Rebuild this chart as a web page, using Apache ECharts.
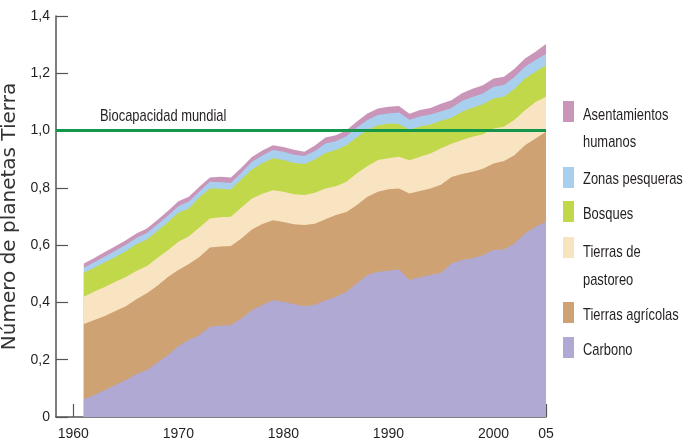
<!DOCTYPE html>
<html>
<head>
<meta charset="utf-8">
<script src="https://cdn.jsdelivr.net/npm/echarts@6/dist/echarts.min.js"></script>
<style>
  html, body { margin: 0; padding: 0; background: #fff; }
  #chart { width: 691px; height: 447px; }
</style>
</head>
<body>
<div id="chart"></div>
<script>
// years on the x axis
const years = [1961,1962,1963,1964,1965,1966,1967,1968,1969,1970,
               1971,1972,1973,1974,1975,1976,1977,1978,1979,1980,
               1981,1982,1983,1984,1985,1986,1987,1988,1989,1990,
               1991,1992,1993,1994,1995,1996,1997,1998,1999,2000,
               2001,2002,2003,2004,2005];
const xTicks = [1960, 1970, 1980, 1990, 2000, 2005];

// layer values (number of planets), bottom to top
const carbono = [0.062,0.077,0.094,0.112,0.129,0.149,0.164,0.190,0.216,0.248,
                 0.269,0.286,0.315,0.319,0.321,0.344,0.373,0.391,0.408,0.402,
                 0.394,0.387,0.392,0.408,0.420,0.437,0.467,0.496,0.507,0.511,
                 0.515,0.478,0.488,0.496,0.504,0.536,0.548,0.554,0.565,0.583,
                 0.585,0.606,0.641,0.664,0.682];
const agricolas = [0.263,0.262,0.259,0.258,0.258,0.262,0.268,0.268,0.273,0.265,
                   0.265,0.273,0.277,0.276,0.276,0.279,0.282,0.283,0.279,0.279,
                   0.279,0.283,0.283,0.282,0.285,0.279,0.273,0.273,0.279,0.284,
                   0.283,0.302,0.301,0.302,0.307,0.302,0.300,0.302,0.302,0.302,
                   0.309,0.308,0.308,0.308,0.314];
const pastoreo = [0.095,0.099,0.101,0.102,0.102,0.099,0.095,0.097,0.093,0.099,
                  0.097,0.103,0.101,0.102,0.102,0.108,0.108,0.105,0.105,0.105,
                  0.105,0.105,0.108,0.108,0.101,0.105,0.111,0.107,0.111,0.108,
                  0.111,0.116,0.120,0.122,0.127,0.116,0.119,0.122,0.120,0.122,
                  0.119,0.124,0.122,0.128,0.122];
const bosques = [0.084,0.083,0.086,0.087,0.090,0.093,0.093,0.094,0.098,0.101,
                 0.097,0.105,0.105,0.100,0.095,0.099,0.101,0.107,0.111,0.111,
                 0.109,0.108,0.116,0.124,0.126,0.128,0.126,0.126,0.122,0.122,
                 0.114,0.107,0.105,0.101,0.096,0.091,0.099,0.102,0.105,0.105,
                 0.105,0.108,0.111,0.105,0.111];
const pesqueras = [0.017,0.019,0.020,0.021,0.022,0.022,0.022,0.023,0.023,0.023,
                   0.024,0.020,0.023,0.023,0.023,0.023,0.027,0.027,0.029,0.029,
                   0.029,0.028,0.030,0.033,0.031,0.031,0.034,0.035,0.035,0.035,
                   0.040,0.035,0.035,0.035,0.033,0.034,0.037,0.037,0.037,0.041,
                   0.041,0.041,0.041,0.041,0.038];
const asentamientos = [0.015,0.015,0.016,0.016,0.016,0.016,0.016,0.016,0.016,0.017,
                       0.017,0.017,0.015,0.019,0.019,0.017,0.017,0.017,0.017,0.017,
                       0.017,0.015,0.019,0.021,0.021,0.021,0.021,0.023,0.023,0.023,
                       0.023,0.021,0.023,0.023,0.027,0.027,0.027,0.029,0.029,0.029,
                       0.029,0.029,0.029,0.029,0.035];
const biocapacidad = 1.0;

const layers = [
  { name: 'Carbono', data: carbono, color: '#b0a9d3' },
  { name: 'Tierras agrícolas', data: agricolas, color: '#cfa273' },
  { name: 'Tierras de\npastoreo', data: pastoreo, color: '#f9e4c2' },
  { name: 'Bosques', data: bosques, color: '#c0d84a' },
  { name: 'Zonas pesqueras', data: pesqueras, color: '#a8cfee' },
  { name: 'Asentamientos\nhumanos', data: asentamientos, color: '#c996b9' }
];

const sans = "'Liberation Sans', Arial, sans-serif";
const axisColor = '#555';
const textColor = '#231f20';
const squeeze = 0.76;   // fake a condensed face

let chart = echarts.init(document.getElementById('chart'));

// running totals, so each layer's area fills down to the axis
let running = years.map(() => 0);
let cumulative = layers.map(l => {
  running = running.map((s, j) => s + l.data[j]);
  return running.slice();
});

// top layer first so lower layers paint over it
let series = [];
for (let i = layers.length - 1; i >= 0; i--) {
  series.push({
    name: layers[i].name,
    type: 'line',
    symbol: 'none',
    silent: true,
    lineStyle: { width: 0 },
    areaStyle: { color: layers[i].color, opacity: 1 },
    data: years.map((y, j) => [y, cumulative[i][j]]),
    z: 2
  });
}

series.push({
  name: 'Biocapacidad mundial',
  type: 'line',
  data: [],
  silent: true,
  z: 5,
  markLine: {
    silent: true,
    symbol: ['none', 'none'],
    label: { show: false },
    lineStyle: { color: '#14964b', width: 3, type: 'solid' },
    data: [{ yAxis: biocapacidad }]
  }
});

// legend drawn by hand (labels on two lines)
const legendRows = [
  { layer: 5, top: 101, lines: [115, 142.5] },
  { layer: 4, top: 167, lines: [179] },
  { layer: 3, top: 201, lines: [214] },
  { layer: 2, top: 237, lines: [252, 280] },
  { layer: 1, top: 302, lines: [315.5] },
  { layer: 0, top: 337, lines: [350.5] }
];
let legendGraphics = [];
legendRows.forEach(r => {
  let l = layers[r.layer];
  legendGraphics.push({
    type: 'rect', x: 563, y: r.top,
    shape: { width: 11, height: 21 },
    style: { fill: l.color }
  });
  l.name.split('\n').forEach((t, k) => {
    legendGraphics.push({
      type: 'text', x: 583, y: r.lines[k], scaleX: squeeze,
      style: { text: t, font: '17px ' + sans, fill: textColor, verticalAlign: 'middle' }
    });
  });
});
legendGraphics.push({
  type: 'text', x: 100, y: 116, scaleX: squeeze,
  style: { text: 'Biocapacidad mundial', font: '17px ' + sans, fill: textColor, verticalAlign: 'middle' }
});

chart.setOption({
  backgroundColor: '#fff',
  animation: false,
  grid: { left: 56, right: 145, top: 16, bottom: 30, outerBoundsMode: 'none', containLabel: false },
  xAxis: {
    type: 'value',
    min: 1958.35,
    max: 2005,
    axisLine: { lineStyle: { color: axisColor, width: 1.5 } },
    axisTick: { inside: true, length: 13, customValues: xTicks, lineStyle: { color: axisColor, width: 1.2 } },
    axisLabel: {
      customValues: xTicks,
      margin: 10,
      color: textColor,
      fontSize: 14,
      fontFamily: sans,
      formatter: v => v === 2005 ? '05' : String(v)
    },
    splitLine: { show: false }
  },
  yAxis: {
    type: 'value',
    min: 0,
    max: 1.4,
    interval: 0.2,
    name: 'Número de planetas Tierra',
    nameLocation: 'middle',
    nameGap: 24,
    nameTextStyle: { fontSize: 20, fontFamily: "'DejaVu Sans', sans-serif", color: '#333' },
    axisLine: { show: true, lineStyle: { color: axisColor, width: 1.5 } },
    axisTick: { show: true, inside: true, length: 12, lineStyle: { color: axisColor, width: 1.2 } },
    axisLabel: {
      margin: 6,
      color: textColor,
      fontSize: 14,
      fontFamily: sans,
      formatter: v => v === 0 ? '0' : v.toFixed(1).replace('.', ',')
    },
    splitLine: { show: false }
  },
  graphic: legendGraphics,
  series: series
});
</script>
</body>
</html>
